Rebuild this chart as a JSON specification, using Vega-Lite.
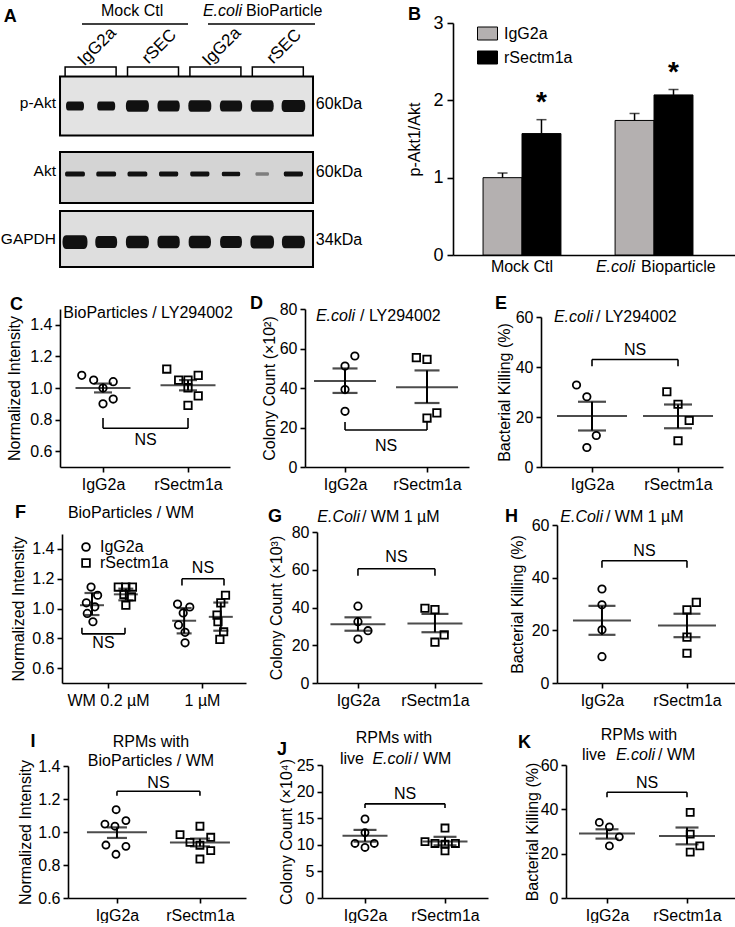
{
"$schema": "https://vega.github.io/schema/vega-lite/v6.json",
"background": "white",
"padding": 0,
"spacing": 0,
"resolve": {"scale": {"shape": "independent", "fill": "independent", "size": "independent", "opacity": "independent"}, "legend": {"shape": "independent", "fill": "independent"}},
"config": {
  "view": {"stroke": null},
  "font": "Liberation Sans",
  "axis": {"grid": false, "domainColor": "#000", "domainWidth": 1.6, "tickColor": "#000", "tickWidth": 1.6, "tickSize": 5, "labelColor": "#000", "labelFontSize": 16, "labelPadding": 3, "labelFlush": false, "labelOverlap": false, "titleColor": "#000", "titleFontSize": 16, "titleFontWeight": "normal", "labelFont": "Liberation Sans", "titleFont": "Liberation Sans"},
  "axisX": {"labelPadding": 4},
  "text": {"color": "#000", "font": "Liberation Sans", "fontSize": 16},
  "legend": {"labelFont": "Liberation Sans", "labelColor": "#000"}
},
"datasets": {
  "membranes": [
    {"blot": "p-Akt", "row": 1, "kda": "60kDa"},
    {"blot": "Akt", "row": 2, "kda": "60kDa"},
    {"blot": "GAPDH", "row": 3, "kda": "34kDa"}
  ],
  "bands": [
    {"blot": "p-Akt", "row": 1, "lane": 1, "signal": 0.52},
    {"blot": "p-Akt", "row": 1, "lane": 2, "signal": 0.52},
    {"blot": "p-Akt", "row": 1, "lane": 3, "signal": 0.85},
    {"blot": "p-Akt", "row": 1, "lane": 4, "signal": 0.8},
    {"blot": "p-Akt", "row": 1, "lane": 5, "signal": 0.85},
    {"blot": "p-Akt", "row": 1, "lane": 6, "signal": 0.8},
    {"blot": "p-Akt", "row": 1, "lane": 7, "signal": 0.85},
    {"blot": "p-Akt", "row": 1, "lane": 8, "signal": 0.9},
    {"blot": "Akt", "row": 2, "lane": 1, "signal": 0.64},
    {"blot": "Akt", "row": 2, "lane": 2, "signal": 0.64},
    {"blot": "Akt", "row": 2, "lane": 3, "signal": 0.64},
    {"blot": "Akt", "row": 2, "lane": 4, "signal": 0.6},
    {"blot": "Akt", "row": 2, "lane": 5, "signal": 0.6},
    {"blot": "Akt", "row": 2, "lane": 6, "signal": 0.55},
    {"blot": "Akt", "row": 2, "lane": 7, "signal": 0.3},
    {"blot": "Akt", "row": 2, "lane": 8, "signal": 0.6},
    {"blot": "GAPDH", "row": 3, "lane": 1, "signal": 1.0},
    {"blot": "GAPDH", "row": 3, "lane": 2, "signal": 0.77},
    {"blot": "GAPDH", "row": 3, "lane": 3, "signal": 0.85},
    {"blot": "GAPDH", "row": 3, "lane": 4, "signal": 0.8},
    {"blot": "GAPDH", "row": 3, "lane": 5, "signal": 0.8},
    {"blot": "GAPDH", "row": 3, "lane": 6, "signal": 0.77},
    {"blot": "GAPDH", "row": 3, "lane": 7, "signal": 0.9},
    {"blot": "GAPDH", "row": 3, "lane": 8, "signal": 0.85}
  ],
  "pairs": [
    {"mid": 1.5, "label": "IgG2a"},
    {"mid": 3.5, "label": "rSEC"},
    {"mid": 5.5, "label": "IgG2a"},
    {"mid": 7.5, "label": "rSEC"}
  ],
  "bars": [
    {"group": "Mock Ctl", "series": "IgG2a", "value": 1.0, "hi": 1.06, "sig": ""},
    {"group": "Mock Ctl", "series": "rSectm1a", "value": 1.57, "hi": 1.75, "sig": "*"},
    {"group": "E.coli Bioparticle", "series": "IgG2a", "value": 1.74, "hi": 1.83, "sig": ""},
    {"group": "E.coli Bioparticle", "series": "rSectm1a", "value": 2.07, "hi": 2.14, "sig": "*"}
  ],
  "points": [
    {"panel": "C", "series": "IgG2a", "pos": 0.75, "value": 1.08},
    {"panel": "C", "series": "IgG2a", "pos": 0.89, "value": 1.05},
    {"panel": "C", "series": "IgG2a", "pos": 1.12, "value": 1.04},
    {"panel": "C", "series": "IgG2a", "pos": 1.0, "value": 1.0},
    {"panel": "C", "series": "IgG2a", "pos": 1.12, "value": 0.93},
    {"panel": "C", "series": "IgG2a", "pos": 1.0, "value": 0.9},
    {"panel": "C", "series": "rSectm1a", "pos": 1.75, "value": 1.12},
    {"panel": "C", "series": "rSectm1a", "pos": 1.89, "value": 1.05},
    {"panel": "C", "series": "rSectm1a", "pos": 2.0, "value": 1.05},
    {"panel": "C", "series": "rSectm1a", "pos": 2.12, "value": 1.08},
    {"panel": "C", "series": "rSectm1a", "pos": 2.0, "value": 1.0},
    {"panel": "C", "series": "rSectm1a", "pos": 2.12, "value": 0.95},
    {"panel": "C", "series": "rSectm1a", "pos": 2.0, "value": 0.89},
    {"panel": "D", "series": "IgG2a", "pos": 1.12, "value": 56.2},
    {"panel": "D", "series": "IgG2a", "pos": 1.0, "value": 51.1},
    {"panel": "D", "series": "IgG2a", "pos": 1.0, "value": 39.2},
    {"panel": "D", "series": "IgG2a", "pos": 1.0, "value": 28.2},
    {"panel": "D", "series": "rSectm1a", "pos": 1.87, "value": 55.4},
    {"panel": "D", "series": "rSectm1a", "pos": 2.0, "value": 54.5},
    {"panel": "D", "series": "rSectm1a", "pos": 2.12, "value": 27.4},
    {"panel": "D", "series": "rSectm1a", "pos": 2.0, "value": 24.8},
    {"panel": "E", "series": "IgG2a", "pos": 0.82, "value": 32.8},
    {"panel": "E", "series": "IgG2a", "pos": 0.94, "value": 28.1},
    {"panel": "E", "series": "IgG2a", "pos": 1.05, "value": 12.6},
    {"panel": "E", "series": "IgG2a", "pos": 0.94, "value": 7.8},
    {"panel": "E", "series": "rSectm1a", "pos": 1.87, "value": 30.1},
    {"panel": "E", "series": "rSectm1a", "pos": 2.0, "value": 25.1},
    {"panel": "E", "series": "rSectm1a", "pos": 2.13, "value": 18.6},
    {"panel": "E", "series": "rSectm1a", "pos": 2.0, "value": 10.5},
    {"panel": "F", "series": "IgG2a", "pos": 0.82, "value": 1.144},
    {"panel": "F", "series": "IgG2a", "pos": 0.89, "value": 1.089},
    {"panel": "F", "series": "IgG2a", "pos": 0.77, "value": 1.038},
    {"panel": "F", "series": "IgG2a", "pos": 0.86, "value": 1.011},
    {"panel": "F", "series": "IgG2a", "pos": 0.78, "value": 0.967},
    {"panel": "F", "series": "IgG2a", "pos": 0.84, "value": 0.911},
    {"panel": "F", "series": "rSectm1a", "pos": 1.11, "value": 1.144},
    {"panel": "F", "series": "rSectm1a", "pos": 1.19, "value": 1.144},
    {"panel": "F", "series": "rSectm1a", "pos": 1.26, "value": 1.144},
    {"panel": "F", "series": "rSectm1a", "pos": 1.17, "value": 1.095},
    {"panel": "F", "series": "rSectm1a", "pos": 1.25, "value": 1.078},
    {"panel": "F", "series": "rSectm1a", "pos": 1.19, "value": 1.022},
    {"panel": "F", "series": "IgG2a", "pos": 1.74, "value": 1.03},
    {"panel": "F", "series": "IgG2a", "pos": 1.87, "value": 1.01},
    {"panel": "F", "series": "IgG2a", "pos": 1.8, "value": 0.97},
    {"panel": "F", "series": "IgG2a", "pos": 1.75, "value": 0.89},
    {"panel": "F", "series": "IgG2a", "pos": 1.82, "value": 0.84},
    {"panel": "F", "series": "IgG2a", "pos": 1.82, "value": 0.77},
    {"panel": "F", "series": "rSectm1a", "pos": 2.25, "value": 1.089},
    {"panel": "F", "series": "rSectm1a", "pos": 2.2, "value": 1.038},
    {"panel": "F", "series": "rSectm1a", "pos": 2.16, "value": 0.956},
    {"panel": "F", "series": "rSectm1a", "pos": 2.17, "value": 0.911},
    {"panel": "F", "series": "rSectm1a", "pos": 2.23, "value": 0.844},
    {"panel": "F", "series": "rSectm1a", "pos": 2.19, "value": 0.793},
    {"panel": "G", "series": "IgG2a", "pos": 1.0, "value": 40.7},
    {"panel": "G", "series": "IgG2a", "pos": 1.0, "value": 32.5},
    {"panel": "G", "series": "IgG2a", "pos": 1.13, "value": 27.7},
    {"panel": "G", "series": "IgG2a", "pos": 1.0, "value": 23.3},
    {"panel": "G", "series": "rSectm1a", "pos": 1.87, "value": 39.6},
    {"panel": "G", "series": "rSectm1a", "pos": 2.0, "value": 38.9},
    {"panel": "G", "series": "rSectm1a", "pos": 2.12, "value": 25.5},
    {"panel": "G", "series": "rSectm1a", "pos": 2.0, "value": 21.6},
    {"panel": "H", "series": "IgG2a", "pos": 1.0, "value": 35.7},
    {"panel": "H", "series": "IgG2a", "pos": 1.0, "value": 29.7},
    {"panel": "H", "series": "IgG2a", "pos": 1.0, "value": 20.2},
    {"panel": "H", "series": "IgG2a", "pos": 1.0, "value": 10.0},
    {"panel": "H", "series": "rSectm1a", "pos": 2.11, "value": 30.6},
    {"panel": "H", "series": "rSectm1a", "pos": 2.0, "value": 27.8},
    {"panel": "H", "series": "rSectm1a", "pos": 2.0, "value": 17.4},
    {"panel": "H", "series": "rSectm1a", "pos": 2.0, "value": 11.3},
    {"panel": "I", "series": "IgG2a", "pos": 0.99, "value": 1.135},
    {"panel": "I", "series": "IgG2a", "pos": 0.855, "value": 1.048},
    {"panel": "I", "series": "IgG2a", "pos": 0.976, "value": 1.035},
    {"panel": "I", "series": "IgG2a", "pos": 1.108, "value": 1.069},
    {"panel": "I", "series": "IgG2a", "pos": 0.867, "value": 0.921},
    {"panel": "I", "series": "IgG2a", "pos": 1.108, "value": 0.913},
    {"panel": "I", "series": "IgG2a", "pos": 0.988, "value": 0.865},
    {"panel": "I", "series": "rSectm1a", "pos": 2.0, "value": 1.035},
    {"panel": "I", "series": "rSectm1a", "pos": 1.76, "value": 0.984},
    {"panel": "I", "series": "rSectm1a", "pos": 2.13, "value": 0.968},
    {"panel": "I", "series": "rSectm1a", "pos": 1.88, "value": 0.937},
    {"panel": "I", "series": "rSectm1a", "pos": 2.0, "value": 0.92},
    {"panel": "I", "series": "rSectm1a", "pos": 2.13, "value": 0.887},
    {"panel": "I", "series": "rSectm1a", "pos": 2.0, "value": 0.836},
    {"panel": "J", "series": "IgG2a", "pos": 1.0, "value": 14.85},
    {"panel": "J", "series": "IgG2a", "pos": 1.0, "value": 12.3},
    {"panel": "J", "series": "IgG2a", "pos": 0.875, "value": 10.25},
    {"panel": "J", "series": "IgG2a", "pos": 1.116, "value": 10.25},
    {"panel": "J", "series": "IgG2a", "pos": 1.0, "value": 9.5},
    {"panel": "J", "series": "rSectm1a", "pos": 2.0, "value": 13.15},
    {"panel": "J", "series": "rSectm1a", "pos": 1.75, "value": 10.6},
    {"panel": "J", "series": "rSectm1a", "pos": 1.875, "value": 10.25},
    {"panel": "J", "series": "rSectm1a", "pos": 2.0, "value": 10.1},
    {"panel": "J", "series": "rSectm1a", "pos": 2.13, "value": 10.25},
    {"panel": "J", "series": "rSectm1a", "pos": 2.0, "value": 8.87},
    {"panel": "K", "series": "IgG2a", "pos": 0.904, "value": 34.1},
    {"panel": "K", "series": "IgG2a", "pos": 1.03, "value": 32.1},
    {"panel": "K", "series": "IgG2a", "pos": 1.154, "value": 27.6},
    {"panel": "K", "series": "IgG2a", "pos": 1.03, "value": 23.5},
    {"panel": "K", "series": "rSectm1a", "pos": 2.04, "value": 38.6},
    {"panel": "K", "series": "rSectm1a", "pos": 2.04, "value": 28.8},
    {"panel": "K", "series": "rSectm1a", "pos": 2.16, "value": 23.5},
    {"panel": "K", "series": "rSectm1a", "pos": 2.04, "value": 20.7}
  ],
  "summary": [
    {"panel": "C", "series": "IgG2a", "pos": 1, "mean": 1.0, "lo": 0.972, "hi": 1.028},
    {"panel": "C", "series": "rSectm1a", "pos": 2, "mean": 1.018, "lo": 0.985, "hi": 1.05},
    {"panel": "D", "series": "IgG2a", "pos": 1, "mean": 43.5, "lo": 37.5, "hi": 49.9},
    {"panel": "D", "series": "rSectm1a", "pos": 2, "mean": 40.4, "lo": 32.4, "hi": 48.9},
    {"panel": "E", "series": "IgG2a", "pos": 1, "mean": 20.4, "lo": 14.6, "hi": 26.1},
    {"panel": "E", "series": "rSectm1a", "pos": 2, "mean": 20.4, "lo": 15.5, "hi": 25.0},
    {"panel": "F", "series": "IgG2a", "pos": 0.83, "mean": 1.022, "lo": 0.956, "hi": 1.104},
    {"panel": "F", "series": "rSectm1a", "pos": 1.19, "mean": 1.095, "lo": 1.055, "hi": 1.133},
    {"panel": "F", "series": "IgG2a", "pos": 1.81, "mean": 0.918, "lo": 0.833, "hi": 1.003},
    {"panel": "F", "series": "rSectm1a", "pos": 2.2, "mean": 0.944, "lo": 0.851, "hi": 1.04},
    {"panel": "G", "series": "IgG2a", "pos": 1, "mean": 31.1, "lo": 27.7, "hi": 34.8},
    {"panel": "G", "series": "rSectm1a", "pos": 2, "mean": 31.5, "lo": 26.9, "hi": 36.6},
    {"panel": "H", "series": "IgG2a", "pos": 1, "mean": 23.7, "lo": 18.3, "hi": 29.3},
    {"panel": "H", "series": "rSectm1a", "pos": 2, "mean": 21.8, "lo": 17.4, "hi": 26.3},
    {"panel": "I", "series": "IgG2a", "pos": 1, "mean": 0.998, "lo": 0.964, "hi": 1.028},
    {"panel": "I", "series": "rSectm1a", "pos": 2, "mean": 0.937, "lo": 0.913, "hi": 0.96},
    {"panel": "J", "series": "IgG2a", "pos": 1, "mean": 11.7, "lo": 10.6, "hi": 12.8},
    {"panel": "J", "series": "rSectm1a", "pos": 2, "mean": 10.6, "lo": 9.9, "hi": 11.5},
    {"panel": "K", "series": "IgG2a", "pos": 1, "mean": 29.1, "lo": 26.8, "hi": 31.0},
    {"panel": "K", "series": "rSectm1a", "pos": 2, "mean": 28.0, "lo": 24.2, "hi": 31.8}
  ]
},
"vconcat": [
{
 "hconcat": [
  {
  "width": 453, "height": 285,
  "resolve": {"scale": {"shape": "independent", "fill": "independent"}},
  "layer": [
    {"data": {"name": "membranes"},
     "mark": {"type": "point", "filled": true, "stroke": "#000", "strokeWidth": 2, "size": 64009, "opacity": 1},
     "encoding": {
       "x": {"datum": 4.574, "type": "quantitative", "scale": {"domain": [-1.404, 13.115], "nice": false, "zero": false}, "axis": null},
       "y": {"field": "row", "type": "quantitative", "scale": {"domain": [-0.559, 3.632], "reverse": true, "nice": false, "zero": false}, "axis": null},
       "shape": {"field": "blot", "type": "nominal", "scale": {"domain": ["p-Akt", "Akt", "GAPDH"], "range": ["M-1,-0.233L1,-0.233L1,0.233L-1,0.233Z", "M-1,-0.174L1,-0.174L1,0.229L-1,0.229Z", "M-1,-0.245L1,-0.245L1,0.198L-1,0.198Z"]}, "legend": null},
       "fill": {"field": "blot", "type": "nominal", "scale": {"domain": ["p-Akt", "Akt", "GAPDH"], "range": ["#e3e3e3", "#d4d4d4", "#dedede"]}, "legend": null}
     }},
    {"data": {"name": "bands"},
     "mark": {"type": "point", "filled": true, "fill": "#111", "strokeWidth": 0},
     "encoding": {
       "x": {"field": "lane", "type": "quantitative", "axis": null},
       "y": {"field": "row", "type": "quantitative", "axis": null},
       "shape": {"field": "blot", "type": "nominal", "scale": {"domain": ["p-Akt", "Akt", "GAPDH"], "range": ["M-0.75,-0.5L0.75,-0.5Q1,-0.5,1,0Q1,0.5,0.75,0.5L-0.75,0.5Q-1,0.5,-1,0Q-1,-0.5,-0.75,-0.5Z", "M-0.85,-0.25L0.85,-0.25Q1,-0.25,1,0Q1,0.25,0.85,0.25L-0.85,0.25Q-1,0.25,-1,0Q-1,-0.25,-0.85,-0.25Z", "M-0.72,-0.55L0.72,-0.55Q1,-0.55,1,0Q1,0.55,0.72,0.55L-0.72,0.55Q-1,0.55,-1,0Q-1,-0.55,-0.72,-0.55Z"]}, "legend": null},
       "size": {"field": "signal", "type": "quantitative", "scale": {"domain": [0, 1], "range": [0, 625]}, "legend": null},
       "opacity": {"field": "signal", "type": "quantitative", "scale": {"domain": [0.25, 0.5], "range": [0.3, 1], "clamp": true}, "legend": null}
     }},
    {"data": {"name": "membranes"},
     "mark": {"type": "text", "align": "right", "baseline": "middle", "fontSize": 15.5, "dy": -3},
     "encoding": {"x": {"datum": 0.39, "type": "quantitative"}, "y": {"field": "row", "type": "quantitative"}, "text": {"field": "blot"}}},
    {"data": {"name": "membranes"},
     "mark": {"type": "text", "align": "left", "baseline": "middle", "fontSize": 16, "dy": -2},
     "encoding": {"x": {"datum": 8.72, "type": "quantitative"}, "y": {"field": "row", "type": "quantitative"}, "text": {"field": "kda"}}},
    {"data": {"name": "pairs"},
     "mark": {"type": "text", "align": "center", "baseline": "middle", "fontSize": 17, "angle": -45, "dx": 9},
     "encoding": {"x": {"field": "mid", "type": "quantitative"}, "y": {"datum": 0.22, "type": "quantitative"}, "text": {"field": "label"}}},
    {"data": {"name": "pairs"},
     "mark": {"type": "point", "filled": false, "stroke": "#000", "strokeWidth": 1.5, "size": 2601, "opacity": 1, "shape": "M-1,0.2L-1,-0.2L1,-0.2L1,0.2"},
     "encoding": {"x": {"field": "mid", "type": "quantitative"}, "y": {"datum": 0.5, "type": "quantitative"}}},
    {"data": {"values": [{}]},
     "mark": {"type": "rule", "strokeWidth": 1.5, "color": "#000"},
     "encoding": {"x": {"datum": 1.224, "type": "quantitative"}, "x2": {"datum": 4.622}, "y": {"datum": -0.206, "type": "quantitative"}}},
    {"data": {"values": [{}]},
     "mark": {"type": "rule", "strokeWidth": 1.5, "color": "#000"},
     "encoding": {"x": {"datum": 5.263, "type": "quantitative"}, "x2": {"datum": 8.692}, "y": {"datum": -0.206, "type": "quantitative"}}},
    {"data": {"values": [{}]},
     "mark": {"type": "text", "text": "Mock Ctl", "align": "center", "baseline": "middle", "fontSize": 16},
     "encoding": {"x": {"datum": 2.83, "type": "quantitative"}, "y": {"datum": -0.397, "type": "quantitative"}}},
    {"data": {"values": [{}]},
     "mark": {"type": "text", "text": "E.coli", "align": "right", "baseline": "middle", "fontSize": 16, "fontStyle": "italic"},
     "encoding": {"x": {"datum": 6.353, "type": "quantitative"}, "y": {"datum": -0.397, "type": "quantitative"}}},
    {"data": {"values": [{}]},
     "mark": {"type": "text", "text": "BioParticle", "align": "left", "baseline": "middle", "fontSize": 16},
     "encoding": {"x": {"datum": 6.48, "type": "quantitative"}, "y": {"datum": -0.397, "type": "quantitative"}}},
    {"data": {"values": [{}]},
     "mark": {"type": "text", "text": "A", "align": "left", "baseline": "middle", "fontSize": 18, "fontWeight": "bold"},
     "encoding": {"x": {"datum": -1.28, "type": "quantitative"}, "y": {"datum": -0.309, "type": "quantitative"}}},
    {"data": {"values": [{}]},
     "mark": {"type": "text", "text": "B", "align": "left", "baseline": "middle", "fontSize": 18, "fontWeight": "bold"},
     "encoding": {"x": {"datum": 11.67, "type": "quantitative"}, "y": {"datum": -0.338, "type": "quantitative"}}}
  ]
  },
  {
  "width": 282, "height": 255,
  "data": {"name": "bars"},
  "layer": [
    {"mark": {"type": "bar", "stroke": "#000", "strokeWidth": 1},
     "encoding": {
       "x": {"field": "group", "type": "nominal", "sort": null, "scale": {"domain": ["Mock Ctl", "E.coli Bioparticle"], "paddingInner": 0.41, "paddingOuter": 0.273, "align": 0.417}, "axis": {"labels": false, "ticks": false, "title": null}},
       "xOffset": {"field": "series", "type": "nominal", "scale": {"domain": ["IgG2a", "rSectm1a"], "paddingInner": 0, "paddingOuter": 0}},
       "y": {"field": "value", "type": "quantitative", "scale": {"domain": [0, 3], "range": [255, 23], "nice": false, "zero": true}, "axis": {"values": [0, 1, 2, 3], "tickCount": 12, "format": "d", "labelFontSize": 18, "tickSize": 6, "labelPadding": 4, "title": "p-Akt1/Akt", "titlePadding": 10}},
       "fill": {"field": "series", "type": "nominal", "scale": {"domain": ["IgG2a", "rSectm1a"], "range": ["#b4b0b0", "#000000"]},
         "legend": {"orient": "none", "legendX": 24, "legendY": 23, "title": null, "symbolType": "M-1,-0.65L1,-0.65L1,0.65L-1,0.65Z", "symbolSize": 400, "symbolStrokeColor": "#000", "symbolStrokeWidth": 1, "labelFontSize": 16, "rowPadding": 5, "labelOffset": 6, "padding": 0}}
     }},
    {"mark": {"type": "rule", "strokeWidth": 1.5, "color": "#000"},
     "encoding": {"x": {"field": "group", "type": "nominal"}, "xOffset": {"field": "series", "type": "nominal"}, "y": {"field": "value", "type": "quantitative"}, "y2": {"field": "hi"}}},
    {"mark": {"type": "tick", "orient": "horizontal", "size": 10, "thickness": 1.5, "color": "#000"},
     "encoding": {"x": {"field": "group", "type": "nominal"}, "xOffset": {"field": "series", "type": "nominal"}, "y": {"field": "hi", "type": "quantitative"}}},
    {"transform": [{"filter": "datum.sig != ''"}],
     "mark": {"type": "text", "fontSize": 28, "fontWeight": "bold", "baseline": "middle", "dy": -17},
     "encoding": {"x": {"field": "group", "type": "nominal"}, "xOffset": {"field": "series", "type": "nominal"}, "y": {"field": "hi", "type": "quantitative"}, "text": {"field": "sig"}}},
    {"data": {"values": [{}]},
     "mark": {"type": "text", "text": "Mock Ctl", "align": "center", "baseline": "middle", "fontSize": 16},
     "encoding": {"x": {"datum": "Mock Ctl", "type": "nominal"}, "y": {"datum": -0.155, "type": "quantitative"}}},
    {"data": {"values": [{}]},
     "mark": {"type": "text", "text": "E.coli", "align": "right", "baseline": "middle", "fontSize": 16, "fontStyle": "italic", "dx": -19},
     "encoding": {"x": {"datum": "E.coli Bioparticle", "type": "nominal"}, "y": {"datum": -0.155, "type": "quantitative"}}},
    {"data": {"values": [{}]},
     "mark": {"type": "text", "text": "Bioparticle", "align": "left", "baseline": "middle", "fontSize": 16, "dx": -13},
     "encoding": {"x": {"datum": "E.coli Bioparticle", "type": "nominal"}, "y": {"datum": -0.155, "type": "quantitative"}}}
  ]
  }
 ],
 "spacing": 0,
 "bounds": "flush",
 "resolve": {"scale": {"shape": "independent", "fill": "independent", "size": "independent", "opacity": "independent"}, "legend": {"shape": "independent", "fill": "independent"}}
},
{
 "hconcat": [
  {"width": 60, "height": 1, "data": {"values": [{}]}, "mark": {"type": "text", "text": ""}, "encoding": {}},
  {
  "width": 170, "height": 174,
  "layer": [
    {"data": {"name": "points"}, "transform": [{"filter": "datum.panel == 'C'"}],
     "mark": {"type": "point", "filled": false, "stroke": "#000", "strokeWidth": 1.8, "size": 55, "opacity": 1},
     "encoding": {
       "x": {"field": "pos", "type": "quantitative", "scale": {"domain": [0.494, 2.494], "nice": false, "zero": false}, "axis": {"values": [1, 2], "labelExpr": "datum.value == 1 ? 'IgG2a' : 'rSectm1a'", "title": null}},
       "y": {"field": "value", "type": "quantitative", "scale": {"domain": [0.5, 1.5], "range": [174, 16], "nice": false, "zero": false}, "axis": {"values": [0.6, 0.8, 1.0, 1.2, 1.4], "tickCount": 12, "format": ".1f", "title": "Normalized Intensity", "titlePadding": 7}},
       "shape": {"field": "series", "type": "nominal", "scale": {"domain": ["IgG2a", "rSectm1a"], "range": ["circle", "square"]}, "legend": null}
     }},
    {"data": {"name": "summary"}, "transform": [{"filter": "datum.panel == 'C'"}],
     "mark": {"type": "tick", "orient": "horizontal", "size": 55, "thickness": 2, "color": "#000"},
     "encoding": {"x": {"field": "pos", "type": "quantitative"}, "y": {"field": "mean", "type": "quantitative"}}},
    {"data": {"name": "summary"}, "transform": [{"filter": "datum.panel == 'C'"}, {"fold": ["lo", "hi"], "as": ["k", "v"]}],
     "mark": {"type": "tick", "orient": "horizontal", "size": 18, "thickness": 2.2, "color": "#000"},
     "encoding": {"x": {"field": "pos", "type": "quantitative"}, "y": {"field": "v", "type": "quantitative"}}},
    {"data": {"name": "summary"}, "transform": [{"filter": "datum.panel == 'C'"}],
     "mark": {"type": "rule", "strokeWidth": 2, "color": "#000"},
     "encoding": {"x": {"field": "pos", "type": "quantitative"}, "y": {"field": "lo", "type": "quantitative"}, "y2": {"field": "hi"}}},
    {"data": {"values": [{}]}, "mark": {"type": "rule", "strokeWidth": 1.6, "color": "#000"},
     "encoding": {"x": {"datum": 1, "type": "quantitative"}, "x2": {"datum": 2}, "y": {"datum": 0.745, "type": "quantitative"}}},
    {"data": {"values": [{}]}, "mark": {"type": "rule", "strokeWidth": 1.6, "color": "#000"},
     "encoding": {"x": {"datum": 1, "type": "quantitative"}, "y": {"datum": 0.745, "type": "quantitative"}, "y2": {"datum": 0.81}}},
    {"data": {"values": [{}]}, "mark": {"type": "rule", "strokeWidth": 1.6, "color": "#000"},
     "encoding": {"x": {"datum": 2, "type": "quantitative"}, "y": {"datum": 0.745, "type": "quantitative"}, "y2": {"datum": 0.81}}},
    {"data": {"values": [{}]}, "mark": {"type": "text", "text": "NS", "baseline": "middle", "fontSize": 16},
     "encoding": {"x": {"datum": 1.5, "type": "quantitative"}, "y": {"datum": 0.67, "type": "quantitative"}}},
    {"data": {"values": [{}]}, "mark": {"type": "text", "text": "BioParticles / LY294002", "baseline": "middle", "fontSize": 16},
     "encoding": {"x": {"datum": 1.53, "type": "quantitative"}, "y": {"datum": 1.475, "type": "quantitative"}}},
    {"data": {"values": [{}]}, "mark": {"type": "text", "text": "C", "align": "left", "baseline": "middle", "fontSize": 18, "fontWeight": "bold"},
     "encoding": {"x": {"datum": -0.094, "type": "quantitative"}, "y": {"datum": 1.525, "type": "quantitative"}}}
  ]
  },
  {"width": 75, "height": 1, "data": {"values": [{}]}, "mark": {"type": "text", "text": ""}, "encoding": {}},
  {
  "width": 164, "height": 174,
  "layer": [
    {"data": {"name": "points"}, "transform": [{"filter": "datum.panel == 'D'"}],
     "mark": {"type": "point", "filled": false, "stroke": "#000", "strokeWidth": 1.8, "size": 55, "opacity": 1},
     "encoding": {
       "x": {"field": "pos", "type": "quantitative", "scale": {"domain": [0.512, 2.512], "nice": false, "zero": false}, "axis": {"values": [1, 2], "labelExpr": "datum.value == 1 ? 'IgG2a' : 'rSectm1a'", "title": null}},
       "y": {"field": "value", "type": "quantitative", "scale": {"domain": [0, 80], "range": [174, 16], "nice": false, "zero": false}, "axis": {"values": [0, 20, 40, 60, 80], "tickCount": 12, "format": "d", "title": "Colony Count (×10²)", "titlePadding": 2}},
       "shape": {"field": "series", "type": "nominal", "scale": {"domain": ["IgG2a", "rSectm1a"], "range": ["circle", "square"]}, "legend": null}
     }},
    {"data": {"name": "summary"}, "transform": [{"filter": "datum.panel == 'D'"}],
     "mark": {"type": "tick", "orient": "horizontal", "size": 62, "thickness": 2, "color": "#000"},
     "encoding": {"x": {"field": "pos", "type": "quantitative"}, "y": {"field": "mean", "type": "quantitative"}}},
    {"data": {"name": "summary"}, "transform": [{"filter": "datum.panel == 'D'"}, {"fold": ["lo", "hi"], "as": ["k", "v"]}],
     "mark": {"type": "tick", "orient": "horizontal", "size": 25, "thickness": 2.2, "color": "#000"},
     "encoding": {"x": {"field": "pos", "type": "quantitative"}, "y": {"field": "v", "type": "quantitative"}}},
    {"data": {"name": "summary"}, "transform": [{"filter": "datum.panel == 'D'"}],
     "mark": {"type": "rule", "strokeWidth": 2, "color": "#000"},
     "encoding": {"x": {"field": "pos", "type": "quantitative"}, "y": {"field": "lo", "type": "quantitative"}, "y2": {"field": "hi"}}},
    {"data": {"values": [{}]}, "mark": {"type": "rule", "strokeWidth": 1.6, "color": "#000"},
     "encoding": {"x": {"datum": 1, "type": "quantitative"}, "x2": {"datum": 2}, "y": {"datum": 18.7, "type": "quantitative"}}},
    {"data": {"values": [{}]}, "mark": {"type": "rule", "strokeWidth": 1.6, "color": "#000"},
     "encoding": {"x": {"datum": 1, "type": "quantitative"}, "y": {"datum": 18.7, "type": "quantitative"}, "y2": {"datum": 22.8}}},
    {"data": {"values": [{}]}, "mark": {"type": "rule", "strokeWidth": 1.6, "color": "#000"},
     "encoding": {"x": {"datum": 2, "type": "quantitative"}, "y": {"datum": 18.7, "type": "quantitative"}, "y2": {"datum": 22.8}}},
    {"data": {"values": [{}]}, "mark": {"type": "text", "text": "NS", "baseline": "middle", "fontSize": 16},
     "encoding": {"x": {"datum": 1.5, "type": "quantitative"}, "y": {"datum": 10.8, "type": "quantitative"}}},
    {"data": {"values": [{}]}, "mark": {"type": "text", "text": "E.coli", "align": "right", "baseline": "middle", "fontSize": 16, "fontStyle": "italic"},
     "encoding": {"x": {"datum": 1.122, "type": "quantitative"}, "y": {"datum": 76.5, "type": "quantitative"}}},
    {"data": {"values": [{}]}, "mark": {"type": "text", "text": "/ LY294002", "align": "left", "baseline": "middle", "fontSize": 16},
     "encoding": {"x": {"datum": 1.183, "type": "quantitative"}, "y": {"datum": 76.5, "type": "quantitative"}}},
    {"data": {"values": [{}]}, "mark": {"type": "text", "text": "D", "align": "left", "baseline": "middle", "fontSize": 18, "fontWeight": "bold"},
     "encoding": {"x": {"datum": -0.159, "type": "quantitative"}, "y": {"datum": 82.5, "type": "quantitative"}}}
  ]
  },
  {"width": 72, "height": 1, "data": {"values": [{}]}, "mark": {"type": "text", "text": ""}, "encoding": {}},
  {
  "width": 182, "height": 174,
  "layer": [
    {"data": {"name": "points"}, "transform": [{"filter": "datum.panel == 'E'"}],
     "mark": {"type": "point", "filled": false, "stroke": "#000", "strokeWidth": 1.8, "size": 55, "opacity": 1},
     "encoding": {
       "x": {"field": "pos", "type": "quantitative", "scale": {"domain": [0.407, 2.523], "nice": false, "zero": false}, "axis": {"values": [1, 2], "labelExpr": "datum.value == 1 ? 'IgG2a' : 'rSectm1a'", "title": null}},
       "y": {"field": "value", "type": "quantitative", "scale": {"domain": [0, 60], "range": [174, 24], "nice": false, "zero": false}, "axis": {"values": [0, 20, 40, 60], "tickCount": 12, "format": "d", "title": "Bacterial Killing (%)", "titlePadding": 3}},
       "shape": {"field": "series", "type": "nominal", "scale": {"domain": ["IgG2a", "rSectm1a"], "range": ["circle", "square"]}, "legend": null}
     }},
    {"data": {"name": "summary"}, "transform": [{"filter": "datum.panel == 'E'"}],
     "mark": {"type": "tick", "orient": "horizontal", "size": 70, "thickness": 2, "color": "#000"},
     "encoding": {"x": {"field": "pos", "type": "quantitative"}, "y": {"field": "mean", "type": "quantitative"}}},
    {"data": {"name": "summary"}, "transform": [{"filter": "datum.panel == 'E'"}, {"fold": ["lo", "hi"], "as": ["k", "v"]}],
     "mark": {"type": "tick", "orient": "horizontal", "size": 28, "thickness": 2.2, "color": "#000"},
     "encoding": {"x": {"field": "pos", "type": "quantitative"}, "y": {"field": "v", "type": "quantitative"}}},
    {"data": {"name": "summary"}, "transform": [{"filter": "datum.panel == 'E'"}],
     "mark": {"type": "rule", "strokeWidth": 2, "color": "#000"},
     "encoding": {"x": {"field": "pos", "type": "quantitative"}, "y": {"field": "lo", "type": "quantitative"}, "y2": {"field": "hi"}}},
    {"data": {"values": [{}]}, "mark": {"type": "rule", "strokeWidth": 1.6, "color": "#000"},
     "encoding": {"x": {"datum": 1, "type": "quantitative"}, "x2": {"datum": 2}, "y": {"datum": 43, "type": "quantitative"}}},
    {"data": {"values": [{}]}, "mark": {"type": "rule", "strokeWidth": 1.6, "color": "#000"},
     "encoding": {"x": {"datum": 1, "type": "quantitative"}, "y": {"datum": 43, "type": "quantitative"}, "y2": {"datum": 40.3}}},
    {"data": {"values": [{}]}, "mark": {"type": "rule", "strokeWidth": 1.6, "color": "#000"},
     "encoding": {"x": {"datum": 2, "type": "quantitative"}, "y": {"datum": 43, "type": "quantitative"}, "y2": {"datum": 40.3}}},
    {"data": {"values": [{}]}, "mark": {"type": "text", "text": "NS", "baseline": "middle", "fontSize": 16},
     "encoding": {"x": {"datum": 1.5, "type": "quantitative"}, "y": {"datum": 47, "type": "quantitative"}}},
    {"data": {"values": [{}]}, "mark": {"type": "text", "text": "E.coli", "align": "right", "baseline": "middle", "fontSize": 16, "fontStyle": "italic"},
     "encoding": {"x": {"datum": 1.012, "type": "quantitative"}, "y": {"datum": 60, "type": "quantitative"}}},
    {"data": {"values": [{}]}, "mark": {"type": "text", "text": "/ LY294002", "align": "left", "baseline": "middle", "fontSize": 16},
     "encoding": {"x": {"datum": 1.047, "type": "quantitative"}, "y": {"datum": 60, "type": "quantitative"}}},
    {"data": {"values": [{}]}, "mark": {"type": "text", "text": "E", "align": "left", "baseline": "middle", "fontSize": 18, "fontWeight": "bold"},
     "encoding": {"x": {"datum": -0.128, "type": "quantitative"}, "y": {"datum": 65.3, "type": "quantitative"}}}
  ]
  }
 ],
 "spacing": 0,
 "bounds": "flush",
 "resolve": {"scale": {"shape": "independent", "fill": "independent", "size": "independent", "opacity": "independent"}, "legend": {"shape": "independent", "fill": "independent"}}
},
{
 "hconcat": [
  {"width": 62, "height": 1, "data": {"values": [{}]}, "mark": {"type": "text", "text": ""}, "encoding": {}},
  {
  "width": 184, "height": 183,
  "layer": [
    {"data": {"name": "points"}, "transform": [{"filter": "datum.panel == 'F'"}],
     "mark": {"type": "point", "filled": false, "stroke": "#000", "strokeWidth": 1.8, "size": 55, "opacity": 1},
     "encoding": {
       "x": {"field": "pos", "type": "quantitative", "scale": {"domain": [0.511, 2.468], "nice": false, "zero": false}, "axis": {"values": [1, 2], "labelExpr": "datum.value == 1 ? 'WM 0.2 µM' : '1 µM'", "title": null}},
       "y": {"field": "value", "type": "quantitative", "scale": {"domain": [0.5, 1.5], "range": [183, 34], "nice": false, "zero": false}, "axis": {"values": [0.6, 0.8, 1.0, 1.2, 1.4], "tickCount": 12, "format": ".1f", "title": "Normalized Intensity", "titlePadding": 5}},
       "shape": {"field": "series", "type": "nominal", "scale": {"domain": ["IgG2a", "rSectm1a"], "range": ["circle", "square"]},
         "legend": {"orient": "none", "legendX": 16, "legendY": 39, "title": null, "labelFontSize": 16, "symbolStrokeColor": "#000", "symbolStrokeWidth": 1.8, "symbolSize": 60, "symbolFillColor": "transparent", "rowPadding": 0, "labelOffset": 6, "padding": 0}}
     }},
    {"data": {"name": "summary"}, "transform": [{"filter": "datum.panel == 'F'"}],
     "mark": {"type": "tick", "orient": "horizontal", "size": 24, "thickness": 2, "color": "#000"},
     "encoding": {"x": {"field": "pos", "type": "quantitative"}, "y": {"field": "mean", "type": "quantitative"}}},
    {"data": {"name": "summary"}, "transform": [{"filter": "datum.panel == 'F'"}, {"fold": ["lo", "hi"], "as": ["k", "v"]}],
     "mark": {"type": "tick", "orient": "horizontal", "size": 15, "thickness": 2.2, "color": "#000"},
     "encoding": {"x": {"field": "pos", "type": "quantitative"}, "y": {"field": "v", "type": "quantitative"}}},
    {"data": {"name": "summary"}, "transform": [{"filter": "datum.panel == 'F'"}],
     "mark": {"type": "rule", "strokeWidth": 2, "color": "#000"},
     "encoding": {"x": {"field": "pos", "type": "quantitative"}, "y": {"field": "lo", "type": "quantitative"}, "y2": {"field": "hi"}}},
    {"data": {"values": [{}]}, "mark": {"type": "rule", "strokeWidth": 1.6, "color": "#000"},
     "encoding": {"x": {"datum": 0.723, "type": "quantitative"}, "x2": {"datum": 1.181}, "y": {"datum": 0.83, "type": "quantitative"}}},
    {"data": {"values": [{}]}, "mark": {"type": "rule", "strokeWidth": 1.6, "color": "#000"},
     "encoding": {"x": {"datum": 0.723, "type": "quantitative"}, "y": {"datum": 0.83, "type": "quantitative"}, "y2": {"datum": 0.87}}},
    {"data": {"values": [{}]}, "mark": {"type": "rule", "strokeWidth": 1.6, "color": "#000"},
     "encoding": {"x": {"datum": 1.181, "type": "quantitative"}, "y": {"datum": 0.83, "type": "quantitative"}, "y2": {"datum": 0.87}}},
    {"data": {"values": [{}]}, "mark": {"type": "text", "text": "NS", "baseline": "middle", "fontSize": 16},
     "encoding": {"x": {"datum": 0.952, "type": "quantitative"}, "y": {"datum": 0.77, "type": "quantitative"}}},
    {"data": {"values": [{}]}, "mark": {"type": "rule", "strokeWidth": 1.6, "color": "#000"},
     "encoding": {"x": {"datum": 1.787, "type": "quantitative"}, "x2": {"datum": 2.234}, "y": {"datum": 1.2, "type": "quantitative"}}},
    {"data": {"values": [{}]}, "mark": {"type": "rule", "strokeWidth": 1.6, "color": "#000"},
     "encoding": {"x": {"datum": 1.787, "type": "quantitative"}, "y": {"datum": 1.2, "type": "quantitative"}, "y2": {"datum": 1.155}}},
    {"data": {"values": [{}]}, "mark": {"type": "rule", "strokeWidth": 1.6, "color": "#000"},
     "encoding": {"x": {"datum": 2.234, "type": "quantitative"}, "y": {"datum": 1.2, "type": "quantitative"}, "y2": {"datum": 1.155}}},
    {"data": {"values": [{}]}, "mark": {"type": "text", "text": "NS", "baseline": "middle", "fontSize": 16},
     "encoding": {"x": {"datum": 2.01, "type": "quantitative"}, "y": {"datum": 1.27, "type": "quantitative"}}},
    {"data": {"values": [{}]}, "mark": {"type": "text", "text": "BioParticles / WM", "baseline": "middle", "fontSize": 16},
     "encoding": {"x": {"datum": 1.245, "type": "quantitative"}, "y": {"datum": 1.64, "type": "quantitative"}}},
    {"data": {"values": [{}]}, "mark": {"type": "text", "text": "F", "align": "left", "baseline": "middle", "fontSize": 18, "fontWeight": "bold"},
     "encoding": {"x": {"datum": 0.011, "type": "quantitative"}, "y": {"datum": 1.64, "type": "quantitative"}}}
  ]
  },
  {"width": 71, "height": 1, "data": {"values": [{}]}, "mark": {"type": "text", "text": ""}, "encoding": {}},
  {
  "width": 165, "height": 183,
  "layer": [
    {"data": {"name": "points"}, "transform": [{"filter": "datum.panel == 'G'"}],
     "mark": {"type": "point", "filled": false, "stroke": "#000", "strokeWidth": 1.8, "size": 55, "opacity": 1},
     "encoding": {
       "x": {"field": "pos", "type": "quantitative", "scale": {"domain": [0.468, 2.611], "nice": false, "zero": false}, "axis": {"values": [1, 2], "labelExpr": "datum.value == 1 ? 'IgG2a' : 'rSectm1a'", "title": null}},
       "y": {"field": "value", "type": "quantitative", "scale": {"domain": [0, 80], "range": [183, 32], "nice": false, "zero": false}, "axis": {"values": [0, 20, 40, 60, 80], "tickCount": 12, "format": "d", "title": "Colony Count (×10³)", "titlePadding": 7}},
       "shape": {"field": "series", "type": "nominal", "scale": {"domain": ["IgG2a", "rSectm1a"], "range": ["circle", "square"]}, "legend": null}
     }},
    {"data": {"name": "summary"}, "transform": [{"filter": "datum.panel == 'G'"}],
     "mark": {"type": "tick", "orient": "horizontal", "size": 55, "thickness": 2, "color": "#000"},
     "encoding": {"x": {"field": "pos", "type": "quantitative"}, "y": {"field": "mean", "type": "quantitative"}}},
    {"data": {"name": "summary"}, "transform": [{"filter": "datum.panel == 'G'"}, {"fold": ["lo", "hi"], "as": ["k", "v"]}],
     "mark": {"type": "tick", "orient": "horizontal", "size": 27, "thickness": 2.2, "color": "#000"},
     "encoding": {"x": {"field": "pos", "type": "quantitative"}, "y": {"field": "v", "type": "quantitative"}}},
    {"data": {"name": "summary"}, "transform": [{"filter": "datum.panel == 'G'"}],
     "mark": {"type": "rule", "strokeWidth": 2, "color": "#000"},
     "encoding": {"x": {"field": "pos", "type": "quantitative"}, "y": {"field": "lo", "type": "quantitative"}, "y2": {"field": "hi"}}},
    {"data": {"values": [{}]}, "mark": {"type": "rule", "strokeWidth": 1.6, "color": "#000"},
     "encoding": {"x": {"datum": 1, "type": "quantitative"}, "x2": {"datum": 2}, "y": {"datum": 60.5, "type": "quantitative"}}},
    {"data": {"values": [{}]}, "mark": {"type": "rule", "strokeWidth": 1.6, "color": "#000"},
     "encoding": {"x": {"datum": 1, "type": "quantitative"}, "y": {"datum": 60.5, "type": "quantitative"}, "y2": {"datum": 56.8}}},
    {"data": {"values": [{}]}, "mark": {"type": "rule", "strokeWidth": 1.6, "color": "#000"},
     "encoding": {"x": {"datum": 2, "type": "quantitative"}, "y": {"datum": 60.5, "type": "quantitative"}, "y2": {"datum": 56.8}}},
    {"data": {"values": [{}]}, "mark": {"type": "text", "text": "NS", "baseline": "middle", "fontSize": 16},
     "encoding": {"x": {"datum": 1.5, "type": "quantitative"}, "y": {"datum": 67, "type": "quantitative"}}},
    {"data": {"values": [{}]}, "mark": {"type": "text", "text": "E.Coli", "align": "right", "baseline": "middle", "fontSize": 16, "fontStyle": "italic"},
     "encoding": {"x": {"datum": 1.026, "type": "quantitative"}, "y": {"datum": 87.9, "type": "quantitative"}}},
    {"data": {"values": [{}]}, "mark": {"type": "text", "text": "/ WM 1 µM", "align": "left", "baseline": "middle", "fontSize": 16},
     "encoding": {"x": {"datum": 1.052, "type": "quantitative"}, "y": {"datum": 87.9, "type": "quantitative"}}},
    {"data": {"values": [{}]}, "mark": {"type": "text", "text": "G", "align": "left", "baseline": "middle", "fontSize": 18, "fontWeight": "bold"},
     "encoding": {"x": {"datum": -0.169, "type": "quantitative"}, "y": {"datum": 87.9, "type": "quantitative"}}}
  ]
  },
  {"width": 75, "height": 1, "data": {"values": [{}]}, "mark": {"type": "text", "text": ""}, "encoding": {}},
  {
  "width": 178, "height": 183,
  "layer": [
    {"data": {"name": "points"}, "transform": [{"filter": "datum.panel == 'H'"}],
     "mark": {"type": "point", "filled": false, "stroke": "#000", "strokeWidth": 1.8, "size": 55, "opacity": 1},
     "encoding": {
       "x": {"field": "pos", "type": "quantitative", "scale": {"domain": [0.471, 2.565], "nice": false, "zero": false}, "axis": {"values": [1, 2], "labelExpr": "datum.value == 1 ? 'IgG2a' : 'rSectm1a'", "title": null}},
       "y": {"field": "value", "type": "quantitative", "scale": {"domain": [0, 60], "range": [183, 25], "nice": false, "zero": false}, "axis": {"values": [0, 20, 40, 60], "tickCount": 12, "format": "d", "title": "Bacterial Killing (%)", "titlePadding": 6}},
       "shape": {"field": "series", "type": "nominal", "scale": {"domain": ["IgG2a", "rSectm1a"], "range": ["circle", "square"]}, "legend": null}
     }},
    {"data": {"name": "summary"}, "transform": [{"filter": "datum.panel == 'H'"}],
     "mark": {"type": "tick", "orient": "horizontal", "size": 58, "thickness": 2, "color": "#000"},
     "encoding": {"x": {"field": "pos", "type": "quantitative"}, "y": {"field": "mean", "type": "quantitative"}}},
    {"data": {"name": "summary"}, "transform": [{"filter": "datum.panel == 'H'"}, {"fold": ["lo", "hi"], "as": ["k", "v"]}],
     "mark": {"type": "tick", "orient": "horizontal", "size": 27, "thickness": 2.2, "color": "#000"},
     "encoding": {"x": {"field": "pos", "type": "quantitative"}, "y": {"field": "v", "type": "quantitative"}}},
    {"data": {"name": "summary"}, "transform": [{"filter": "datum.panel == 'H'"}],
     "mark": {"type": "rule", "strokeWidth": 2, "color": "#000"},
     "encoding": {"x": {"field": "pos", "type": "quantitative"}, "y": {"field": "lo", "type": "quantitative"}, "y2": {"field": "hi"}}},
    {"data": {"values": [{}]}, "mark": {"type": "rule", "strokeWidth": 1.6, "color": "#000"},
     "encoding": {"x": {"datum": 1, "type": "quantitative"}, "x2": {"datum": 2}, "y": {"datum": 46.4, "type": "quantitative"}}},
    {"data": {"values": [{}]}, "mark": {"type": "rule", "strokeWidth": 1.6, "color": "#000"},
     "encoding": {"x": {"datum": 1, "type": "quantitative"}, "y": {"datum": 46.4, "type": "quantitative"}, "y2": {"datum": 43.8}}},
    {"data": {"values": [{}]}, "mark": {"type": "rule", "strokeWidth": 1.6, "color": "#000"},
     "encoding": {"x": {"datum": 2, "type": "quantitative"}, "y": {"datum": 46.4, "type": "quantitative"}, "y2": {"datum": 43.8}}},
    {"data": {"values": [{}]}, "mark": {"type": "text", "text": "NS", "baseline": "middle", "fontSize": 16},
     "encoding": {"x": {"datum": 1.5, "type": "quantitative"}, "y": {"datum": 50.3, "type": "quantitative"}}},
    {"data": {"values": [{}]}, "mark": {"type": "text", "text": "E.Coli", "align": "right", "baseline": "middle", "fontSize": 16, "fontStyle": "italic"},
     "encoding": {"x": {"datum": 1.012, "type": "quantitative"}, "y": {"datum": 63, "type": "quantitative"}}},
    {"data": {"values": [{}]}, "mark": {"type": "text", "text": "/ WM 1 µM", "align": "left", "baseline": "middle", "fontSize": 16},
     "encoding": {"x": {"datum": 1.047, "type": "quantitative"}, "y": {"datum": 63, "type": "quantitative"}}},
    {"data": {"values": [{}]}, "mark": {"type": "text", "text": "H", "align": "left", "baseline": "middle", "fontSize": 18, "fontWeight": "bold"},
     "encoding": {"x": {"datum": -0.141, "type": "quantitative"}, "y": {"datum": 63, "type": "quantitative"}}}
  ]
  }
 ],
 "spacing": 0,
 "bounds": "flush",
 "resolve": {"scale": {"shape": "independent", "fill": "independent", "size": "independent", "opacity": "independent"}, "legend": {"shape": "independent", "fill": "independent"}}
},
{
 "hconcat": [
  {"width": 68, "height": 1, "data": {"values": [{}]}, "mark": {"type": "text", "text": ""}, "encoding": {}},
  {
  "width": 178, "height": 182,
  "layer": [
    {"data": {"name": "points"}, "transform": [{"filter": "datum.panel == 'I'"}],
     "mark": {"type": "point", "filled": false, "stroke": "#000", "strokeWidth": 1.8, "size": 50, "opacity": 1},
     "encoding": {
       "x": {"field": "pos", "type": "quantitative", "scale": {"domain": [0.41, 2.555], "nice": false, "zero": false}, "axis": {"values": [1, 2], "labelExpr": "datum.value == 1 ? 'IgG2a' : 'rSectm1a'", "title": null}},
       "y": {"field": "value", "type": "quantitative", "scale": {"domain": [0.6, 1.4], "range": [182, 50], "nice": false, "zero": false}, "axis": {"values": [0.6, 0.8, 1.0, 1.2, 1.4], "tickCount": 12, "format": ".1f", "title": "Normalized Intensity", "titlePadding": 4}},
       "shape": {"field": "series", "type": "nominal", "scale": {"domain": ["IgG2a", "rSectm1a"], "range": ["circle", "square"]}, "legend": null}
     }},
    {"data": {"name": "summary"}, "transform": [{"filter": "datum.panel == 'I'"}],
     "mark": {"type": "tick", "orient": "horizontal", "size": 60, "thickness": 2, "color": "#000"},
     "encoding": {"x": {"field": "pos", "type": "quantitative"}, "y": {"field": "mean", "type": "quantitative"}}},
    {"data": {"name": "summary"}, "transform": [{"filter": "datum.panel == 'I'"}, {"fold": ["lo", "hi"], "as": ["k", "v"]}],
     "mark": {"type": "tick", "orient": "horizontal", "size": 20, "thickness": 2.2, "color": "#000"},
     "encoding": {"x": {"field": "pos", "type": "quantitative"}, "y": {"field": "v", "type": "quantitative"}}},
    {"data": {"name": "summary"}, "transform": [{"filter": "datum.panel == 'I'"}],
     "mark": {"type": "rule", "strokeWidth": 2, "color": "#000"},
     "encoding": {"x": {"field": "pos", "type": "quantitative"}, "y": {"field": "lo", "type": "quantitative"}, "y2": {"field": "hi"}}},
    {"data": {"values": [{}]}, "mark": {"type": "rule", "strokeWidth": 1.6, "color": "#000"},
     "encoding": {"x": {"datum": 1, "type": "quantitative"}, "x2": {"datum": 2}, "y": {"datum": 1.247, "type": "quantitative"}}},
    {"data": {"values": [{}]}, "mark": {"type": "rule", "strokeWidth": 1.6, "color": "#000"},
     "encoding": {"x": {"datum": 1, "type": "quantitative"}, "y": {"datum": 1.247, "type": "quantitative"}, "y2": {"datum": 1.22}}},
    {"data": {"values": [{}]}, "mark": {"type": "rule", "strokeWidth": 1.6, "color": "#000"},
     "encoding": {"x": {"datum": 2, "type": "quantitative"}, "y": {"datum": 1.247, "type": "quantitative"}, "y2": {"datum": 1.22}}},
    {"data": {"values": [{}]}, "mark": {"type": "text", "text": "NS", "baseline": "middle", "fontSize": 16},
     "encoding": {"x": {"datum": 1.5, "type": "quantitative"}, "y": {"datum": 1.3, "type": "quantitative"}}},
    {"data": {"values": [{}]}, "mark": {"type": "text", "text": "RPMs with", "baseline": "middle", "fontSize": 16},
     "encoding": {"x": {"datum": 1.41, "type": "quantitative"}, "y": {"datum": 1.545, "type": "quantitative"}}},
    {"data": {"values": [{}]}, "mark": {"type": "text", "text": "BioParticles / WM", "baseline": "middle", "fontSize": 16},
     "encoding": {"x": {"datum": 1.41, "type": "quantitative"}, "y": {"datum": 1.43, "type": "quantitative"}}},
    {"data": {"values": [{}]}, "mark": {"type": "text", "text": "I", "align": "center", "baseline": "middle", "fontSize": 18, "fontWeight": "bold"},
     "encoding": {"x": {"datum": -0.012, "type": "quantitative"}, "y": {"datum": 1.545, "type": "quantitative"}}}
  ]
  },
  {"width": 76, "height": 1, "data": {"values": [{}]}, "mark": {"type": "text", "text": ""}, "encoding": {}},
  {
  "width": 166, "height": 182,
  "layer": [
    {"data": {"name": "points"}, "transform": [{"filter": "datum.panel == 'J'"}],
     "mark": {"type": "point", "filled": false, "stroke": "#000", "strokeWidth": 1.8, "size": 50, "opacity": 1},
     "encoding": {
       "x": {"field": "pos", "type": "quantitative", "scale": {"domain": [0.4625, 2.5375], "nice": false, "zero": false}, "axis": {"values": [1, 2], "labelExpr": "datum.value == 1 ? 'IgG2a' : 'rSectm1a'", "title": null}},
       "y": {"field": "value", "type": "quantitative", "scale": {"domain": [0, 25], "range": [182, 49], "nice": false, "zero": false}, "axis": {"values": [0, 5, 10, 15, 20, 25], "tickCount": 12, "format": "d", "title": "Colony Count (×10⁴)", "titlePadding": 2}},
       "shape": {"field": "series", "type": "nominal", "scale": {"domain": ["IgG2a", "rSectm1a"], "range": ["circle", "square"]}, "legend": null}
     }},
    {"data": {"name": "summary"}, "transform": [{"filter": "datum.panel == 'J'"}],
     "mark": {"type": "tick", "orient": "horizontal", "size": 45, "thickness": 2, "color": "#000"},
     "encoding": {"x": {"field": "pos", "type": "quantitative"}, "y": {"field": "mean", "type": "quantitative"}}},
    {"data": {"name": "summary"}, "transform": [{"filter": "datum.panel == 'J'"}, {"fold": ["lo", "hi"], "as": ["k", "v"]}],
     "mark": {"type": "tick", "orient": "horizontal", "size": 23, "thickness": 2.2, "color": "#000"},
     "encoding": {"x": {"field": "pos", "type": "quantitative"}, "y": {"field": "v", "type": "quantitative"}}},
    {"data": {"name": "summary"}, "transform": [{"filter": "datum.panel == 'J'"}],
     "mark": {"type": "rule", "strokeWidth": 2, "color": "#000"},
     "encoding": {"x": {"field": "pos", "type": "quantitative"}, "y": {"field": "lo", "type": "quantitative"}, "y2": {"field": "hi"}}},
    {"data": {"values": [{}]}, "mark": {"type": "rule", "strokeWidth": 1.6, "color": "#000"},
     "encoding": {"x": {"datum": 1, "type": "quantitative"}, "x2": {"datum": 2}, "y": {"datum": 17.7, "type": "quantitative"}}},
    {"data": {"values": [{}]}, "mark": {"type": "rule", "strokeWidth": 1.6, "color": "#000"},
     "encoding": {"x": {"datum": 1, "type": "quantitative"}, "y": {"datum": 17.7, "type": "quantitative"}, "y2": {"datum": 16.9}}},
    {"data": {"values": [{}]}, "mark": {"type": "rule", "strokeWidth": 1.6, "color": "#000"},
     "encoding": {"x": {"datum": 2, "type": "quantitative"}, "y": {"datum": 17.7, "type": "quantitative"}, "y2": {"datum": 16.9}}},
    {"data": {"values": [{}]}, "mark": {"type": "text", "text": "NS", "baseline": "middle", "fontSize": 16},
     "encoding": {"x": {"datum": 1.5, "type": "quantitative"}, "y": {"datum": 19.6, "type": "quantitative"}}},
    {"data": {"values": [{}]}, "mark": {"type": "text", "text": "RPMs with", "baseline": "middle", "fontSize": 16},
     "encoding": {"x": {"datum": 1.3625, "type": "quantitative"}, "y": {"datum": 30.1, "type": "quantitative"}}},
    {"data": {"values": [{}]}, "mark": {"type": "text", "text": "live", "align": "right", "baseline": "middle", "fontSize": 16},
     "encoding": {"x": {"datum": 0.9875, "type": "quantitative"}, "y": {"datum": 26.1, "type": "quantitative"}}},
    {"data": {"values": [{}]}, "mark": {"type": "text", "text": "E.coli", "align": "center", "baseline": "middle", "fontSize": 16, "fontStyle": "italic"},
     "encoding": {"x": {"datum": 1.3375, "type": "quantitative"}, "y": {"datum": 26.1, "type": "quantitative"}}},
    {"data": {"values": [{}]}, "mark": {"type": "text", "text": "/ WM", "align": "left", "baseline": "middle", "fontSize": 16},
     "encoding": {"x": {"datum": 1.6125, "type": "quantitative"}, "y": {"datum": 26.1, "type": "quantitative"}}},
    {"data": {"values": [{}]}, "mark": {"type": "text", "text": "J", "align": "left", "baseline": "middle", "fontSize": 18, "fontWeight": "bold"},
     "encoding": {"x": {"datum": -0.1, "type": "quantitative"}, "y": {"datum": 27.8, "type": "quantitative"}}}
  ]
  },
  {"width": 78, "height": 1, "data": {"values": [{}]}, "mark": {"type": "text", "text": ""}, "encoding": {}},
  {
  "width": 169, "height": 182,
  "layer": [
    {"data": {"name": "points"}, "transform": [{"filter": "datum.panel == 'K'"}],
     "mark": {"type": "point", "filled": false, "stroke": "#000", "strokeWidth": 1.8, "size": 50, "opacity": 1},
     "encoding": {
       "x": {"field": "pos", "type": "quantitative", "scale": {"domain": [0.4875, 2.6], "nice": false, "zero": false}, "axis": {"values": [1, 2], "labelExpr": "datum.value == 1 ? 'IgG2a' : 'rSectm1a'", "title": null}},
       "y": {"field": "value", "type": "quantitative", "scale": {"domain": [0, 60], "range": [182, 49], "nice": false, "zero": false}, "axis": {"values": [0, 20, 40, 60], "tickCount": 12, "format": "d", "title": "Bacterial Killing (%)", "titlePadding": 0}},
       "shape": {"field": "series", "type": "nominal", "scale": {"domain": ["IgG2a", "rSectm1a"], "range": ["circle", "square"]}, "legend": null}
     }},
    {"data": {"name": "summary"}, "transform": [{"filter": "datum.panel == 'K'"}],
     "mark": {"type": "tick", "orient": "horizontal", "size": 56, "thickness": 2, "color": "#000"},
     "encoding": {"x": {"field": "pos", "type": "quantitative"}, "y": {"field": "mean", "type": "quantitative"}}},
    {"data": {"name": "summary"}, "transform": [{"filter": "datum.panel == 'K'"}, {"fold": ["lo", "hi"], "as": ["k", "v"]}],
     "mark": {"type": "tick", "orient": "horizontal", "size": 23, "thickness": 2.2, "color": "#000"},
     "encoding": {"x": {"field": "pos", "type": "quantitative"}, "y": {"field": "v", "type": "quantitative"}}},
    {"data": {"name": "summary"}, "transform": [{"filter": "datum.panel == 'K'"}],
     "mark": {"type": "rule", "strokeWidth": 2, "color": "#000"},
     "encoding": {"x": {"field": "pos", "type": "quantitative"}, "y": {"field": "lo", "type": "quantitative"}, "y2": {"field": "hi"}}},
    {"data": {"values": [{}]}, "mark": {"type": "rule", "strokeWidth": 1.6, "color": "#000"},
     "encoding": {"x": {"datum": 1, "type": "quantitative"}, "x2": {"datum": 2}, "y": {"datum": 47.7, "type": "quantitative"}}},
    {"data": {"values": [{}]}, "mark": {"type": "rule", "strokeWidth": 1.6, "color": "#000"},
     "encoding": {"x": {"datum": 1, "type": "quantitative"}, "y": {"datum": 47.7, "type": "quantitative"}, "y2": {"datum": 45.4}}},
    {"data": {"values": [{}]}, "mark": {"type": "rule", "strokeWidth": 1.6, "color": "#000"},
     "encoding": {"x": {"datum": 2, "type": "quantitative"}, "y": {"datum": 47.7, "type": "quantitative"}, "y2": {"datum": 45.4}}},
    {"data": {"values": [{}]}, "mark": {"type": "text", "text": "NS", "baseline": "middle", "fontSize": 16},
     "encoding": {"x": {"datum": 1.5, "type": "quantitative"}, "y": {"datum": 51.9, "type": "quantitative"}}},
    {"data": {"values": [{}]}, "mark": {"type": "text", "text": "RPMs with", "baseline": "middle", "fontSize": 16},
     "encoding": {"x": {"datum": 1.4, "type": "quantitative"}, "y": {"datum": 73.5, "type": "quantitative"}}},
    {"data": {"values": [{}]}, "mark": {"type": "text", "text": "live", "align": "right", "baseline": "middle", "fontSize": 16},
     "encoding": {"x": {"datum": 0.9875, "type": "quantitative"}, "y": {"datum": 64.5, "type": "quantitative"}}},
    {"data": {"values": [{}]}, "mark": {"type": "text", "text": "E.coli", "align": "center", "baseline": "middle", "fontSize": 16, "fontStyle": "italic"},
     "encoding": {"x": {"datum": 1.356, "type": "quantitative"}, "y": {"datum": 64.5, "type": "quantitative"}}},
    {"data": {"values": [{}]}, "mark": {"type": "text", "text": "/ WM", "align": "left", "baseline": "middle", "fontSize": 16},
     "encoding": {"x": {"datum": 1.6375, "type": "quantitative"}, "y": {"datum": 64.5, "type": "quantitative"}}},
    {"data": {"values": [{}]}, "mark": {"type": "text", "text": "K", "align": "left", "baseline": "middle", "fontSize": 18, "fontWeight": "bold"},
     "encoding": {"x": {"datum": -0.1125, "type": "quantitative"}, "y": {"datum": 69.9, "type": "quantitative"}}}
  ]
  }
 ],
 "spacing": 0,
 "bounds": "flush",
 "resolve": {"scale": {"shape": "independent", "fill": "independent", "size": "independent", "opacity": "independent"}, "legend": {"shape": "independent", "fill": "independent"}}
}
]
}
